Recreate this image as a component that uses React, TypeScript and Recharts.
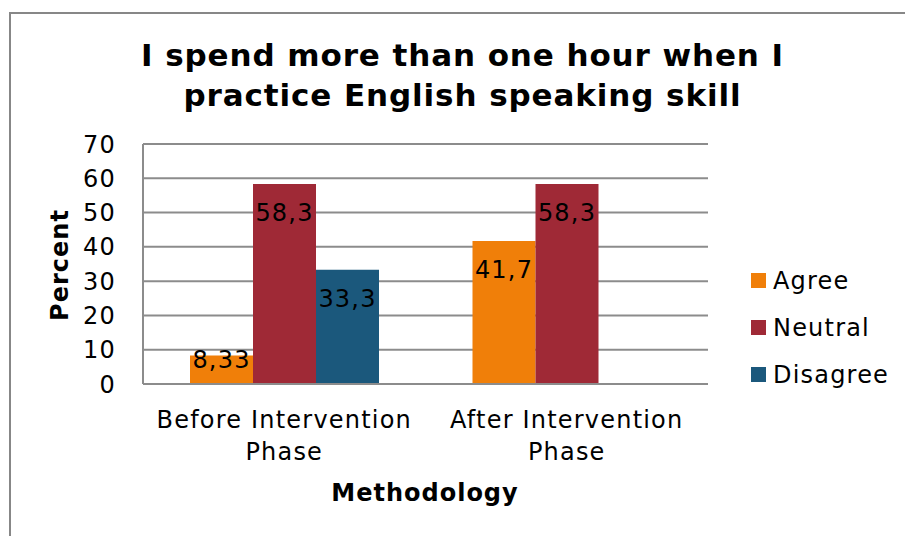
import React from "react";
import { Bar, BarChart, CartesianGrid, LabelList, XAxis, YAxis } from "recharts";

const phases = ["Before Intervention Phase", "After Intervention Phase"];
const agree = [8.33, 41.7];
const neutral = [58.3, 58.3];
const disagree: (number | null)[] = [33.3, null];
const yTicks = [0, 10, 20, 30, 40, 50, 60, 70];

const seriesList = [
  { key: "agree", name: "Agree", color: "#F07F09" },
  { key: "neutral", name: "Neutral", color: "#9F2936" },
  { key: "disagree", name: "Disagree", color: "#1B587C" }
];

const data = phases.map((phase, i) => ({
  phase,
  agree: agree[i],
  neutral: neutral[i],
  disagree: disagree[i]
}));

const font = "'DejaVu Sans', Verdana, sans-serif";
const gridColor = "#8c8c8c";
const textSize = 24;
const spacing = 1.2;

function PhaseTick(props: any) {
  const { x, y, payload } = props;
  const words = String(payload.value).split(" ");
  const first = words.slice(0, 2).join(" ");
  const second = words.slice(2).join(" ");
  return (
    <text x={x} y={y} textAnchor="middle" fontFamily={font} fontSize={textSize} letterSpacing={spacing} fill="#000">
      <tspan x={x} dy={28} dominantBaseline="central">{first}</tspan>
      <tspan x={x} dy={32} dominantBaseline="central">{second}</tspan>
    </text>
  );
}

function ValueLabel(props: any) {
  const { x, y, width, height, value } = props;
  if (value === null || value === undefined) return null;
  const cy = Math.min(y + 29, y + height / 2 - 10);
  return (
    <text
      x={x + width / 2}
      y={cy}
      textAnchor="middle"
      dominantBaseline="central"
      fontFamily={font}
      fontSize={textSize}
      letterSpacing={spacing}
      fill="#000"
    >
      {String(value).replace(".", ",")}
    </text>
  );
}

function LegendBox() {
  return (
    <div
      style={{
        position: "absolute",
        left: 751,
        top: 257,
        fontFamily: font,
        fontSize: textSize,
        letterSpacing: spacing,
        color: "#000"
      }}
    >
      {seriesList.map((s) => (
        <div key={s.key} style={{ display: "flex", alignItems: "center", height: 47, whiteSpace: "nowrap" }}>
          <span style={{ width: 15, height: 15, background: s.color, marginRight: 7, display: "inline-block" }} />
          <span>{s.name}</span>
        </div>
      ))}
    </div>
  );
}

export default function App() {
  return (
    <div
      style={{
        position: "absolute",
        left: 0,
        top: 0,
        width: 905,
        height: 536,
        overflow: "hidden",
        background: "#fff"
      }}
    >
      <div
        style={{
          position: "absolute",
          left: 9,
          top: 12,
          width: 1000,
          height: 1000,
          border: "2px solid #878787",
          boxSizing: "border-box"
        }}
      />
      <div
        style={{
          position: "absolute",
          left: 0,
          top: 35,
          width: 925,
          textAlign: "center",
          fontFamily: font,
          fontWeight: "bold",
          fontSize: 31,
          letterSpacing: 0.9,
          lineHeight: "40px",
          color: "#000"
        }}
      >
        I spend more than one hour when I
        <br />
        practice English speaking skill
      </div>
      <div style={{ position: "absolute", left: 0, top: 0 }}>
        <BarChart
          width={905}
          height={536}
          data={data}
          margin={{ top: 144, right: 197, bottom: 0, left: 0 }}
          barCategoryGap={47}
          barGap={0}
        >
          <CartesianGrid vertical={false} stroke={gridColor} strokeWidth={2} />
          <XAxis
            dataKey="phase"
            height={152}
            tickLine={false}
            axisLine={{ stroke: gridColor, strokeWidth: 2 }}
            tick={<PhaseTick />}
            interval={0}
            label={{
              content: () => (
                <text
                  x={425}
                  y={493}
                  textAnchor="middle"
                  dominantBaseline="central"
                  fontFamily={font}
                  fontWeight="bold"
                  fontSize={textSize}
                  letterSpacing={1}
                  fill="#000"
                >
                  Methodology
                </text>
              )
            }}
          />
          <YAxis
            width={143}
            domain={[0, 70]}
            ticks={yTicks}
            tickSize={0}
            tickMargin={27}
            axisLine={{ stroke: gridColor, strokeWidth: 2 }}
            tick={{ fontFamily: font, fontSize: textSize, letterSpacing: spacing, fill: "#000" }}
            label={{
              content: () => (
                <text
                  x={60}
                  y={265}
                  transform="rotate(-90 60 265)"
                  textAnchor="middle"
                  dominantBaseline="central"
                  fontFamily={font}
                  fontWeight="bold"
                  fontSize={textSize}
                  letterSpacing={1}
                  fill="#000"
                >
                  Percent
                </text>
              )
            }}
          />
          {seriesList.map((s) => (
            <Bar key={s.key} dataKey={s.key} name={s.name} fill={s.color} isAnimationActive={false}>
              <LabelList dataKey={s.key} content={<ValueLabel />} />
            </Bar>
          ))}
        </BarChart>
      </div>
      <LegendBox />
    </div>
  );
}
